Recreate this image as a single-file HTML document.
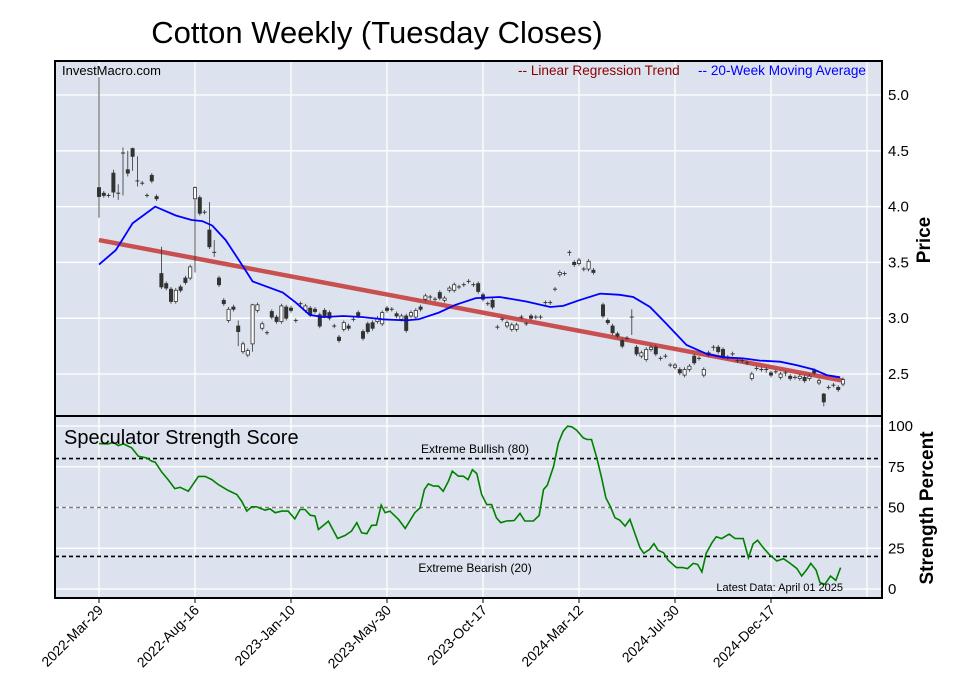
<!DOCTYPE html>
<html><head><meta charset="utf-8"><style>
body{margin:0;background:#fff;width:957px;height:694px;overflow:hidden}
svg text{font-family:"Liberation Sans",sans-serif}
</style></head><body>
<svg id="c" width="957" height="694" xmlns="http://www.w3.org/2000/svg">
<text x="377" y="43" font-size="31" text-anchor="middle">Cotton Weekly (Tuesday Closes)</text>
<rect x="55" y="61" width="827" height="355" fill="#dde3ee"/>
<rect x="55" y="416" width="827" height="182" fill="#dde3ee"/>
<g id="grid"></g>
<g id="marks"></g>
<rect x="55" y="61" width="827" height="537" fill="none" stroke="#000" stroke-width="2"/>
<line x1="55" y1="416" x2="882" y2="416" stroke="#000" stroke-width="2"/>
<text x="62" y="75" font-size="13">InvestMacro.com</text>
<text x="518" y="75" font-size="13.6" fill="#8b0000">-- Linear Regression Trend</text>
<text x="698" y="75" font-size="13.6" fill="#0000ff">-- 20-Week Moving Average</text>
<text x="64" y="444" font-size="20">Speculator Strength Score</text>
<text x="475" y="453" font-size="12" text-anchor="middle">Extreme Bullish (80)</text>
<text x="475" y="572" font-size="12" text-anchor="middle">Extreme Bearish (20)</text>
<text x="843" y="591" font-size="11" text-anchor="end">Latest Data: April 01 2025</text>
<text transform="translate(930,240) rotate(-90)" font-size="19" font-weight="bold" text-anchor="middle">Price</text>
<text transform="translate(933,508) rotate(-90)" font-size="19" font-weight="bold" text-anchor="middle">Strength Percent</text>
</svg>
<script>
const opens=[4.17,4.12,4.10,4.30,4.12,4.48,4.33,4.52,4.23,4.21,4.10,4.28,4.09,3.40,3.31,3.26,3.15,3.28,3.36,3.36,4.07,4.08,3.95,3.79,3.59,3.36,3.16,2.98,3.10,2.93,2.70,2.67,2.77,3.07,2.91,2.87,3.06,3.01,2.97,3.10,3.09,2.98,3.13,3.07,3.09,3.08,3.03,3.07,3.05,2.93,2.83,2.90,2.93,2.99,3.05,2.88,2.95,2.96,2.97,2.95,3.09,3.08,3.04,2.99,3.02,3.02,3.01,3.10,3.17,3.19,3.17,3.23,3.16,3.25,3.25,3.28,3.30,3.33,3.30,3.31,3.21,3.13,3.16,2.92,2.99,2.93,2.90,2.90,3.01,2.95,3.02,3.01,3.01,3.14,3.14,3.26,3.39,3.40,3.58,3.50,3.49,3.44,3.44,3.43,null,3.12,2.98,2.93,2.86,2.80,2.82,3.01,2.74,2.66,2.63,2.72,2.74,2.64,2.66,2.58,2.56,2.54,2.49,2.54,2.66,2.64,2.49,2.69,2.74,2.74,2.72,2.65,2.68,2.62,2.62,2.60,2.46,2.55,2.54,2.54,2.51,2.52,2.47,2.51,2.48,2.47,2.46,2.47,2.46,2.53,2.42,2.32,2.38,2.40,2.38,2.41];
const closes=[4.09,4.10,4.10,4.13,4.12,4.48,4.30,4.45,4.23,4.21,4.10,4.23,4.07,3.28,3.27,3.15,3.25,3.25,3.32,3.46,4.17,3.94,3.95,3.64,3.59,3.30,3.13,3.08,3.08,2.88,2.77,2.71,3.12,3.12,2.95,2.87,3.01,2.97,3.11,3.00,3.07,2.98,3.13,3.11,3.03,3.06,2.93,3.02,3.00,2.93,2.80,2.96,2.91,2.99,3.02,2.82,2.88,2.91,3.00,3.05,3.07,3.08,3.02,3.02,2.89,3.05,3.07,3.08,3.20,3.18,3.17,3.18,3.18,3.27,3.30,3.28,3.30,3.33,3.30,3.24,3.17,3.13,3.10,2.92,2.99,2.96,2.94,2.94,3.01,2.95,3.00,3.01,3.01,3.14,3.14,3.26,3.41,3.40,3.59,3.48,3.52,3.44,3.51,3.41,null,3.02,2.96,2.87,2.84,2.75,2.82,3.01,2.68,2.69,2.72,2.74,2.68,2.64,2.66,2.58,2.58,2.51,2.54,2.57,2.60,2.64,2.54,2.67,2.73,2.70,2.66,2.65,2.68,2.62,2.62,2.60,2.50,2.55,2.54,2.53,2.49,2.52,2.50,2.50,2.46,2.47,2.48,2.44,2.48,2.51,2.44,2.25,2.38,2.40,2.36,2.45];
const wickWeeks=[0,3,4,5,6,7,8,13,20,23,24,29,32,111,151];
const wickHighs=[5.16,4.33,4.20,4.53,4.50,4.53,4.45,3.64,4.18,4.04,3.70,2.98,3.13,3.08,2.33];
const wickLows=[3.90,4.08,4.06,4.10,4.27,4.32,4.18,3.26,3.41,3.62,3.55,2.75,2.70,2.85,2.21];
const maWeeks=[0,3.5,7,11.7,16,19.3,21.5,23.6,26.4,29.6,32,38.3,41,43.9,46.7,50.9,55,59,64,66.6,70.8,74.3,78.5,83.5,89,94,96.7,100,104.4,108.5,111.3,114.8,118,122.4,126.6,130,134.2,137.7,141.9,145.3,148.9,151.6,154.4];
const maValues=[3.48,3.61,3.85,4.00,3.92,3.88,3.87,3.83,3.70,3.49,3.33,3.23,3.14,3.03,3.01,3.02,3.01,2.99,2.98,2.99,3.05,3.12,3.18,3.19,3.15,3.10,3.11,3.16,3.22,3.21,3.19,3.10,2.96,2.76,2.68,2.65,2.64,2.62,2.61,2.58,2.54,2.49,2.47];
const trendStart=3.70, trendEnd=2.44, trendEndWeek=155;
const scoreWeeks=[0,1.9,3,4,5.1,6.8,8.2,9.9,11,11.7,13.1,14.4,15.8,16.9,18.6,20.7,22.1,23.5,24.9,26.9,28.7,29.7,30.8,31.8,32.8,34.6,35.6,36.7,38.1,39.4,40.8,41.9,42.9,44,45,45.7,47.8,49.7,51.3,52.6,53.7,54.7,55.8,56.8,57.8,58.8,59.6,60.6,62.4,63.8,65.8,66.9,67.8,68.6,69.7,70.7,71.7,72.8,73.6,74.9,75.9,76.9,77.8,78.7,79.7,80.8,81.8,82.8,83.7,84.9,86.5,87.7,88.7,90.5,91.7,92.6,93.4,94.7,95.7,96.7,97.6,98.5,99.5,100.9,101.7,102.6,103.7,104.7,105.6,106.5,107.5,108.5,109.6,110.6,111.7,112.7,113.5,114.7,115.6,116.5,117.6,118.6,120.3,121.6,122.6,123.8,124.7,125.6,126.5,127.7,128.6,129.7,131.3,132.5,134.2,135.3,136.3,137.2,138.4,139.6,141.2,142.6,144,145.4,146.4,147.5,148.3,149.4,150.2,151.2,152.4,153.5,154.5];
const scoreValues=[89.2,89,90,88,89,86.6,81.4,80.4,78.4,77.8,71.6,67.1,61.6,62.4,60,69.1,69.1,67.1,64,60.5,58,53.9,47.8,50.4,50.4,48.4,49.2,46.8,47.8,47.8,43,48.8,48.8,45.3,44.7,36.5,41.6,31,32.9,35.5,40.7,34.5,33.9,39,39.2,51.5,46.8,47.8,42.7,37.2,46.8,49.8,61,64.5,63.1,63.1,60,66.1,72.3,69.2,69.2,67.1,73.2,70.8,58,51.8,51.8,43.7,40.7,41.7,42,46.4,41.7,41.7,45.2,61,63.7,75.3,89.6,96.8,99.9,99.5,97.4,92.7,91.7,91.7,80.4,68.2,55.9,50.8,43.7,42.2,38.6,42.7,33.5,25.3,21.9,24.3,27.8,23.7,22.3,17.6,13.1,13.1,12.5,15.7,15.1,10.4,21.9,28.4,32.1,30.9,33.7,31,30.9,19.2,27.8,29.9,25.3,21.3,17.2,18.6,15.7,12.5,8,12.1,15.7,11.6,3.9,2.9,8,5.3,13.1];
const priceTicks=[5.0,4.5,4.0,3.5,3.0,2.5];
const scoreTicks=[100,75,50,25,0];
const dateLabels=["2022-Mar-29","2022-Aug-16","2023-Jan-10","2023-May-30","2023-Oct-17","2024-Mar-12","2024-Jul-30","2024-Dec-17"];
const dateWeeks=[0,20,40,60,80,100,120,140];

const NS="http://www.w3.org/2000/svg";
const xW=w=>99+w*4.8;
const yP=p=>95+(5-p)*111.6;
const yS=v=>589-v*1.63;
const grid=document.getElementById('grid'), marks=document.getElementById('marks'), svg=document.getElementById('c');
function mk(tag,attrs,parent){const e=document.createElementNS(NS,tag);for(const k in attrs)e.setAttribute(k,attrs[k]);parent.appendChild(e);return e;}

dateWeeks.concat([160]).forEach((w,i)=>{
  const g1=mk('line',{x1:xW(w),x2:xW(w),y1:61,y2:598,stroke:'#fff','stroke-width':1.3},grid);
  
  
});
dateLabels.forEach((d,i)=>{
  const x=xW(dateWeeks[i]);
  const t=mk('text',{x:x+5,y:611,'font-size':14,'text-anchor':'end',transform:`rotate(-45 ${x+5} 611)`},svg);
  t.textContent=d;
  
  
});
priceTicks.forEach(p=>{
  const l=mk('line',{x1:55,x2:882,y1:yP(p),y2:yP(p),stroke:'#fff','stroke-width':1.3},grid);
  
  
  const t=mk('text',{x:888,y:yP(p)+5,'font-size':15},svg);
  t.textContent=p.toFixed(1);
  
  
});
scoreTicks.forEach(v=>{
  const l=mk('line',{x1:55,x2:882,y1:yS(v),y2:yS(v),stroke:'#fff','stroke-width':1.3},grid);
  
  
  const t=mk('text',{x:888,y:yS(v)+5,'font-size':15},svg);
  t.textContent=v;
  
  
});
[[80,'#000'],[50,'#808080'],[20,'#000']].forEach(([v,c])=>{
  const l=mk('line',{x1:55,x2:882,y1:yS(v),y2:yS(v),stroke:c,'stroke-width':1.6,'stroke-dasharray':'4 3'},grid);
  
  
});

const tl=mk('line',{x1:xW(0),y1:yP(trendStart),x2:xW(trendEndWeek),y2:yP(trendEnd),stroke:'#c85050','stroke-width':4.5},marks);



opens.forEach((o,i)=>{
  const c=closes[i]; if(o===null||c===null) return;
  const x=xW(i);
  const wi=wickWeeks.indexOf(i);
  const hi=wi>=0?wickHighs[wi]:Math.max(o,c)+0.02;
  const lo=wi>=0?wickLows[wi]:Math.min(o,c)-0.02;
  const g=mk('g',{},marks);
  
  
  mk('line',{x1:x,x2:x,y1:yP(hi),y2:yP(lo),stroke:'#333','stroke-width':0.8},g);
  const top=yP(Math.max(o,c)), bot=yP(Math.min(o,c));
  if(bot-top<1.2){
    mk('line',{x1:x-2,x2:x+2,y1:top,y2:top,stroke:'#333','stroke-width':1},g);
  } else {
    mk('rect',{x:x-1.6,y:top,width:3.2,height:bot-top,fill:c<o?'#333':'#fff',stroke:'#333','stroke-width':0.8},g);
  }
});

const ma=mk('path',{d:maWeeks.map((w,i)=>(i?'L':'M')+xW(w).toFixed(1)+' '+yP(maValues[i]).toFixed(1)).join(' '),fill:'none',stroke:'#0000ff','stroke-width':1.8},marks);



const sl=mk('path',{d:scoreWeeks.map((w,i)=>(i?'L':'M')+xW(w).toFixed(1)+' '+yS(scoreValues[i]).toFixed(1)).join(' '),fill:'none',stroke:'#008000','stroke-width':1.6},marks);



dateWeeks.forEach(w=>{
  const t=mk('line',{x1:xW(w),x2:xW(w),y1:598,y2:603,stroke:'#000'},svg);
  
  
});
</script>
</body></html>
